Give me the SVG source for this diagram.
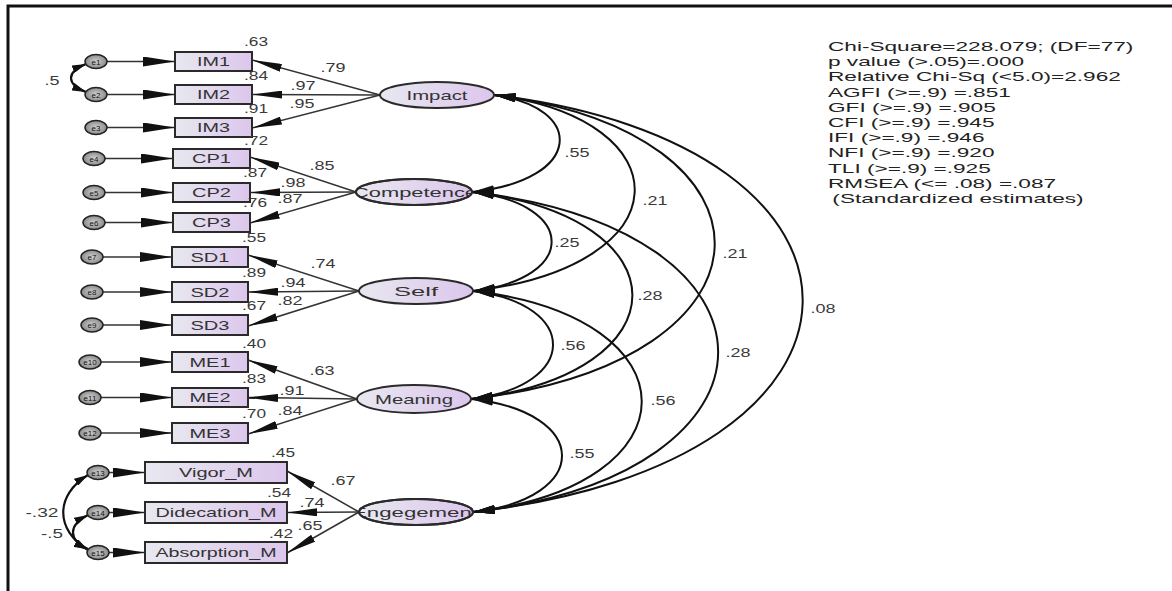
<svg xmlns="http://www.w3.org/2000/svg" width="1172" height="591" viewBox="0 0 1172 591">
<style>
.box{fill:url(#gb);stroke:#2a2a2a;stroke-width:2}
.lat{fill:url(#gb);stroke:#2a2a2a;stroke-width:2}
.err{fill:url(#ge);stroke:#222;stroke-width:1.5}
.t{font-family:"Liberation Sans",Arial,sans-serif;fill:#333}
.bt{font-size:13px;text-anchor:middle}
.lt{font-size:13.5px;text-anchor:middle}
.nl{font-size:12px;text-anchor:middle;fill:#3a3a3a}
.et{font-size:8px;text-anchor:middle;fill:#111}
.st{font-family:"Liberation Sans",Arial,sans-serif;font-size:13px;fill:#222}
.ld{stroke:#333;stroke-width:1.5;fill:none;marker-end:url(#ma)}
.el{stroke:#333;stroke-width:1.5;fill:none;marker-end:url(#me)}
.cv{stroke:#111;stroke-width:2;fill:none;marker-start:url(#mc);marker-end:url(#mc)}
.ec{stroke:#111;stroke-width:2.2;fill:none;marker-start:url(#ms);marker-end:url(#ms)}
</style>
<defs>
<linearGradient id="gb" x1="0" y1="0" x2="1" y2="0"><stop offset="0" stop-color="#e8e8f0"/><stop offset="1" stop-color="#dcc6ec"/></linearGradient>
<radialGradient id="ge"><stop offset="0" stop-color="#d0d0d0"/><stop offset="1" stop-color="#8a8a8a"/></radialGradient>
<marker id="ma" markerUnits="userSpaceOnUse" markerWidth="30" markerHeight="8" refX="30" refY="4" orient="auto"><path d="M0,0 L30,4 L0,8 z" fill="#111"/></marker>
<marker id="me" markerUnits="userSpaceOnUse" markerWidth="32" markerHeight="10" refX="32" refY="5" orient="auto"><path d="M0,0 L32,5 L0,10 z" fill="#111"/></marker>
<marker id="mc" markerUnits="userSpaceOnUse" markerWidth="22" markerHeight="9" refX="22" refY="4.5" orient="auto-start-reverse"><path d="M0,0 L22,4.5 L0,9 z" fill="#111"/></marker>
<marker id="ms" markerUnits="userSpaceOnUse" markerWidth="14" markerHeight="8" refX="14" refY="4" orient="auto-start-reverse"><path d="M0,0 L14,4 L0,8 z" fill="#111"/></marker>
<clipPath id="cpC"><ellipse cx="414" cy="192" rx="58" ry="13"/></clipPath>
<clipPath id="cpE"><ellipse cx="416" cy="512" rx="57" ry="13"/></clipPath>
</defs>
<rect width="1172" height="591" fill="#fff"/>
<path d="M8,591 L8,6 L1172,6" fill="none" stroke="#111" stroke-width="3"/>

<g id="connectors">
<line class="el" x1="107" y1="61.5" x2="175" y2="61.5"/>
<line class="el" x1="107" y1="94.5" x2="175" y2="94.5"/>
<line class="el" x1="107" y1="127.5" x2="175" y2="127.5"/>
<line class="el" x1="105" y1="158.5" x2="173" y2="158.5"/>
<line class="el" x1="105" y1="192.5" x2="173" y2="192.5"/>
<line class="el" x1="105" y1="222.5" x2="173" y2="222.5"/>
<line class="el" x1="103" y1="257" x2="172" y2="257"/>
<line class="el" x1="103" y1="292" x2="172" y2="292"/>
<line class="el" x1="103" y1="325" x2="172" y2="325"/>
<line class="el" x1="101" y1="362" x2="172" y2="362"/>
<line class="el" x1="101" y1="397.5" x2="172" y2="397.5"/>
<line class="el" x1="101" y1="433" x2="172" y2="433"/>
<line class="el" x1="109" y1="472.5" x2="145" y2="472.5"/>
<line class="el" x1="109" y1="512.5" x2="145" y2="512.5"/>
<line class="el" x1="109" y1="552.5" x2="145" y2="552.5"/>

<line class="ld" x1="380" y1="95" x2="252" y2="60"/>
<line class="ld" x1="380" y1="95" x2="252" y2="94.5"/>
<line class="ld" x1="380" y1="95" x2="252" y2="128"/>
<line class="ld" x1="356" y1="192" x2="250" y2="157"/>
<line class="ld" x1="356" y1="192" x2="250" y2="192.5"/>
<line class="ld" x1="356" y1="192" x2="250" y2="223"/>
<line class="ld" x1="359" y1="291" x2="248" y2="255"/>
<line class="ld" x1="359" y1="291" x2="248" y2="292"/>
<line class="ld" x1="359" y1="291" x2="248" y2="326"/>
<line class="ld" x1="357" y1="399" x2="248" y2="360"/>
<line class="ld" x1="357" y1="399" x2="248" y2="397.5"/>
<line class="ld" x1="357" y1="399" x2="248" y2="434"/>
<line class="ld" x1="359" y1="512" x2="287" y2="471"/>
<line class="ld" x1="359" y1="512" x2="287" y2="512.5"/>
<line class="ld" x1="359" y1="512" x2="287" y2="553"/>

<path class="cv" d="M494,95 C585,107 585,180 472,192"/>
<path class="cv" d="M494,95 C685,120 685,266 473,291"/>
<path class="cv" d="M494,95 C792,132 792,362 471,399"/>
<path class="cv" d="M494,95 C909,145 909,462 473,512"/>
<path class="cv" d="M472,192 C578,204 578,279 473,291"/>
<path class="cv" d="M472,192 C686,217 686,374 471,399"/>
<path class="cv" d="M472,192 C800,230 800,474 473,512"/>
<path class="cv" d="M473,291 C580,304 580,386 471,399"/>
<path class="cv" d="M473,291 C698,317 698,486 473,512"/>
<path class="cv" d="M471,399 C592,412 592,499 473,512"/>

<path class="ec" d="M86,64 C66,72 66,84 86,92"/>
<path class="ec" d="M88,475 C55,495 55,530 88,550"/>
<path class="ec" d="M88,515 C68,525 68,540 88,549"/>
</g>

<g id="e1"><ellipse class="err" cx="96" cy="61.5" rx="11" ry="7"/><text class="t et" x="96" y="64.5">e1</text></g>
<g id="e2"><ellipse class="err" cx="96" cy="94.5" rx="11" ry="7"/><text class="t et" x="96" y="97.5">e2</text></g>
<g id="e3"><ellipse class="err" cx="96" cy="127.5" rx="11" ry="7"/><text class="t et" x="96" y="130.5">e3</text></g>
<g id="e4"><ellipse class="err" cx="94" cy="158.5" rx="11" ry="7"/><text class="t et" x="94" y="161.5">e4</text></g>
<g id="e5"><ellipse class="err" cx="94" cy="192.5" rx="11" ry="7"/><text class="t et" x="94" y="195.5">e5</text></g>
<g id="e6"><ellipse class="err" cx="94" cy="222.5" rx="11" ry="7"/><text class="t et" x="94" y="225.5">e6</text></g>
<g id="e7"><ellipse class="err" cx="92" cy="257" rx="11" ry="7"/><text class="t et" x="92" y="260">e7</text></g>
<g id="e8"><ellipse class="err" cx="92" cy="292" rx="11" ry="7"/><text class="t et" x="92" y="295">e8</text></g>
<g id="e9"><ellipse class="err" cx="92" cy="325" rx="11" ry="7"/><text class="t et" x="92" y="328">e9</text></g>
<g id="e10"><ellipse class="err" cx="90" cy="362" rx="11" ry="7"/><text class="t et" x="90" y="365">e10</text></g>
<g id="e11"><ellipse class="err" cx="90" cy="397.5" rx="11" ry="7"/><text class="t et" x="90" y="400.5">e11</text></g>
<g id="e12"><ellipse class="err" cx="90" cy="433" rx="11" ry="7"/><text class="t et" x="90" y="436">e12</text></g>
<g id="e13"><ellipse class="err" cx="98" cy="472.5" rx="11" ry="7"/><text class="t et" x="98" y="475.5">e13</text></g>
<g id="e14"><ellipse class="err" cx="98" cy="512.5" rx="11" ry="7"/><text class="t et" x="98" y="515.5">e14</text></g>
<g id="e15"><ellipse class="err" cx="98" cy="552.5" rx="11" ry="7"/><text class="t et" x="98" y="555.5">e15</text></g>

<g id="IM1"><rect class="box" x="175" y="52" width="77" height="19"/><text class="t bt" x="213.5" y="66" textLength="33" lengthAdjust="spacingAndGlyphs">IM1</text></g>
<g id="IM2"><rect class="box" x="175" y="85" width="77" height="19"/><text class="t bt" x="213.5" y="99" textLength="33" lengthAdjust="spacingAndGlyphs">IM2</text></g>
<g id="IM3"><rect class="box" x="175" y="118" width="77" height="19"/><text class="t bt" x="213.5" y="132" textLength="33" lengthAdjust="spacingAndGlyphs">IM3</text></g>
<g id="CP1"><rect class="box" x="173" y="149" width="77" height="19"/><text class="t bt" x="211.5" y="163" textLength="39" lengthAdjust="spacingAndGlyphs">CP1</text></g>
<g id="CP2"><rect class="box" x="173" y="183" width="77" height="19"/><text class="t bt" x="211.5" y="197" textLength="39" lengthAdjust="spacingAndGlyphs">CP2</text></g>
<g id="CP3"><rect class="box" x="173" y="213" width="77" height="19"/><text class="t bt" x="211.5" y="227" textLength="39" lengthAdjust="spacingAndGlyphs">CP3</text></g>
<g id="SD1"><rect class="box" x="172" y="247" width="76" height="20"/><text class="t bt" x="210" y="261.5" textLength="39" lengthAdjust="spacingAndGlyphs">SD1</text></g>
<g id="SD2"><rect class="box" x="172" y="282" width="76" height="20"/><text class="t bt" x="210" y="296.5" textLength="39" lengthAdjust="spacingAndGlyphs">SD2</text></g>
<g id="SD3"><rect class="box" x="172" y="315" width="76" height="20"/><text class="t bt" x="210" y="329.5" textLength="39" lengthAdjust="spacingAndGlyphs">SD3</text></g>
<g id="ME1"><rect class="box" x="172" y="352" width="76" height="20"/><text class="t bt" x="210" y="366.5" textLength="41" lengthAdjust="spacingAndGlyphs">ME1</text></g>
<g id="ME2"><rect class="box" x="172" y="388" width="76" height="19"/><text class="t bt" x="210" y="402" textLength="41" lengthAdjust="spacingAndGlyphs">ME2</text></g>
<g id="ME3"><rect class="box" x="172" y="423" width="76" height="20"/><text class="t bt" x="210" y="437.5" textLength="41" lengthAdjust="spacingAndGlyphs">ME3</text></g>
<g id="Vigor_M"><rect class="box" x="145" y="462" width="142" height="21"/><text class="t bt" x="216" y="477" textLength="74" lengthAdjust="spacingAndGlyphs">Vigor_M</text></g>
<g id="Didecation_M"><rect class="box" x="145" y="502" width="142" height="21"/><text class="t bt" x="216" y="517" textLength="121" lengthAdjust="spacingAndGlyphs">Didecation_M</text></g>
<g id="Absorption_M"><rect class="box" x="145" y="542" width="142" height="21"/><text class="t bt" x="216" y="557" textLength="121" lengthAdjust="spacingAndGlyphs">Absorption_M</text></g>

<g id="Impact"><ellipse class="lat" cx="437" cy="95" rx="57" ry="13"/><text class="t lt" x="437" y="100" textLength="61" lengthAdjust="spacingAndGlyphs">Impact</text></g>
<g id="Competence"><ellipse class="lat" cx="414" cy="192" rx="58" ry="13"/><text class="t lt" x="415" y="197" textLength="124" lengthAdjust="spacingAndGlyphs" clip-path="url(#cpC)">Competence</text><ellipse cx="414" cy="192" rx="58" ry="13" fill="none" stroke="#2a2a2a" stroke-width="2"/></g>
<g id="Self"><ellipse class="lat" cx="416" cy="291" rx="57" ry="13"/><text class="t lt" x="416" y="296" textLength="44" lengthAdjust="spacingAndGlyphs">Self</text></g>
<g id="Meaning"><ellipse class="lat" cx="414" cy="399" rx="57" ry="14"/><text class="t lt" x="414" y="404" textLength="78" lengthAdjust="spacingAndGlyphs">Meaning</text></g>
<g id="Engegement"><ellipse class="lat" cx="416" cy="512" rx="57" ry="13"/><text class="t lt" x="415" y="517" textLength="126" lengthAdjust="spacingAndGlyphs" clip-path="url(#cpE)">Engegement</text><ellipse cx="416" cy="512" rx="57" ry="13" fill="none" stroke="#2a2a2a" stroke-width="2"/></g>

<g id="labels">
<text class="t nl" x="256" y="46" textLength="24" lengthAdjust="spacingAndGlyphs">.63</text>
<text class="t nl" x="256" y="79.5" textLength="24" lengthAdjust="spacingAndGlyphs">.84</text>
<text class="t nl" x="256" y="112.5" textLength="24" lengthAdjust="spacingAndGlyphs">.91</text>
<text class="t nl" x="256" y="144.5" textLength="24" lengthAdjust="spacingAndGlyphs">.72</text>
<text class="t nl" x="255" y="176.5" textLength="24" lengthAdjust="spacingAndGlyphs">.87</text>
<text class="t nl" x="255" y="206.5" textLength="24" lengthAdjust="spacingAndGlyphs">.76</text>
<text class="t nl" x="254" y="241.5" textLength="24" lengthAdjust="spacingAndGlyphs">.55</text>
<text class="t nl" x="254" y="276.5" textLength="24" lengthAdjust="spacingAndGlyphs">.89</text>
<text class="t nl" x="254" y="309.5" textLength="24" lengthAdjust="spacingAndGlyphs">.67</text>
<text class="t nl" x="254" y="347.5" textLength="24" lengthAdjust="spacingAndGlyphs">.40</text>
<text class="t nl" x="254" y="382.5" textLength="24" lengthAdjust="spacingAndGlyphs">.83</text>
<text class="t nl" x="254" y="417.5" textLength="24" lengthAdjust="spacingAndGlyphs">.70</text>
<text class="t nl" x="283" y="456.5" textLength="24" lengthAdjust="spacingAndGlyphs">.45</text>
<text class="t nl" x="279" y="496.5" textLength="24" lengthAdjust="spacingAndGlyphs">.54</text>
<text class="t nl" x="281" y="537.5" textLength="24" lengthAdjust="spacingAndGlyphs">.42</text>

<text class="t nl" x="333" y="71.5" textLength="25" lengthAdjust="spacingAndGlyphs">.79</text>
<text class="t nl" x="303" y="89.5" textLength="25" lengthAdjust="spacingAndGlyphs">.97</text>
<text class="t nl" x="302" y="107.5" textLength="25" lengthAdjust="spacingAndGlyphs">.95</text>
<text class="t nl" x="322" y="169.5" textLength="25" lengthAdjust="spacingAndGlyphs">.85</text>
<text class="t nl" x="293" y="186.5" textLength="25" lengthAdjust="spacingAndGlyphs">.98</text>
<text class="t nl" x="290" y="202.5" textLength="25" lengthAdjust="spacingAndGlyphs">.87</text>
<text class="t nl" x="323" y="267.5" textLength="25" lengthAdjust="spacingAndGlyphs">.74</text>
<text class="t nl" x="293" y="286.5" textLength="25" lengthAdjust="spacingAndGlyphs">.94</text>
<text class="t nl" x="290" y="304.5" textLength="25" lengthAdjust="spacingAndGlyphs">.82</text>
<text class="t nl" x="322" y="374.5" textLength="25" lengthAdjust="spacingAndGlyphs">.63</text>
<text class="t nl" x="292" y="394.5" textLength="25" lengthAdjust="spacingAndGlyphs">.91</text>
<text class="t nl" x="290" y="414.5" textLength="25" lengthAdjust="spacingAndGlyphs">.84</text>
<text class="t nl" x="343" y="484.5" textLength="25" lengthAdjust="spacingAndGlyphs">.67</text>
<text class="t nl" x="312" y="506.5" textLength="25" lengthAdjust="spacingAndGlyphs">.74</text>
<text class="t nl" x="310" y="529.5" textLength="25" lengthAdjust="spacingAndGlyphs">.65</text>

<text class="t nl" x="577" y="156.5" textLength="25" lengthAdjust="spacingAndGlyphs">.55</text>
<text class="t nl" x="655" y="204.5" textLength="25" lengthAdjust="spacingAndGlyphs">.21</text>
<text class="t nl" x="735" y="257.5" textLength="25" lengthAdjust="spacingAndGlyphs">.21</text>
<text class="t nl" x="823" y="312.5" textLength="25" lengthAdjust="spacingAndGlyphs">.08</text>
<text class="t nl" x="567" y="246.5" textLength="25" lengthAdjust="spacingAndGlyphs">.25</text>
<text class="t nl" x="650" y="299.5" textLength="25" lengthAdjust="spacingAndGlyphs">.28</text>
<text class="t nl" x="738" y="356.5" textLength="25" lengthAdjust="spacingAndGlyphs">.28</text>
<text class="t nl" x="573" y="349.5" textLength="25" lengthAdjust="spacingAndGlyphs">.56</text>
<text class="t nl" x="663" y="404.5" textLength="25" lengthAdjust="spacingAndGlyphs">.56</text>
<text class="t nl" x="582" y="457.5" textLength="25" lengthAdjust="spacingAndGlyphs">.55</text>

<text class="t nl" x="52" y="84.5" textLength="15" lengthAdjust="spacingAndGlyphs">.5</text>
<text class="t nl" x="42" y="516.5" textLength="33" lengthAdjust="spacingAndGlyphs">-.32</text>
<text class="t nl" x="52" y="537.5" textLength="22" lengthAdjust="spacingAndGlyphs">-.5</text>
</g>

<g id="fit" transform="translate(828,0) scale(1.74,1)">
<text class="st" x="0" y="51">Chi-Square=228.079; (DF=77)</text>
<text class="st" x="0" y="66.2">p value (&gt;.05)=.000</text>
<text class="st" x="0" y="81.4">Relative Chi-Sq (&lt;5.0)=2.962</text>
<text class="st" x="0" y="96.6">AGFI (&gt;=.9) =.851</text>
<text class="st" x="0" y="111.8">GFI (&gt;=.9) =.905</text>
<text class="st" x="0" y="127">CFI (&gt;=.9) =.945</text>
<text class="st" x="0" y="142.2">IFI (&gt;=.9) =.946</text>
<text class="st" x="0" y="157.4">NFI (&gt;=.9) =.920</text>
<text class="st" x="0" y="172.6">TLI (&gt;=.9) =.925</text>
<text class="st" x="0" y="187.8">RMSEA (&lt;= .08) =.087</text>
<text class="st" x="2.5" y="203">(Standardized estimates)</text>
</g>
</svg>
